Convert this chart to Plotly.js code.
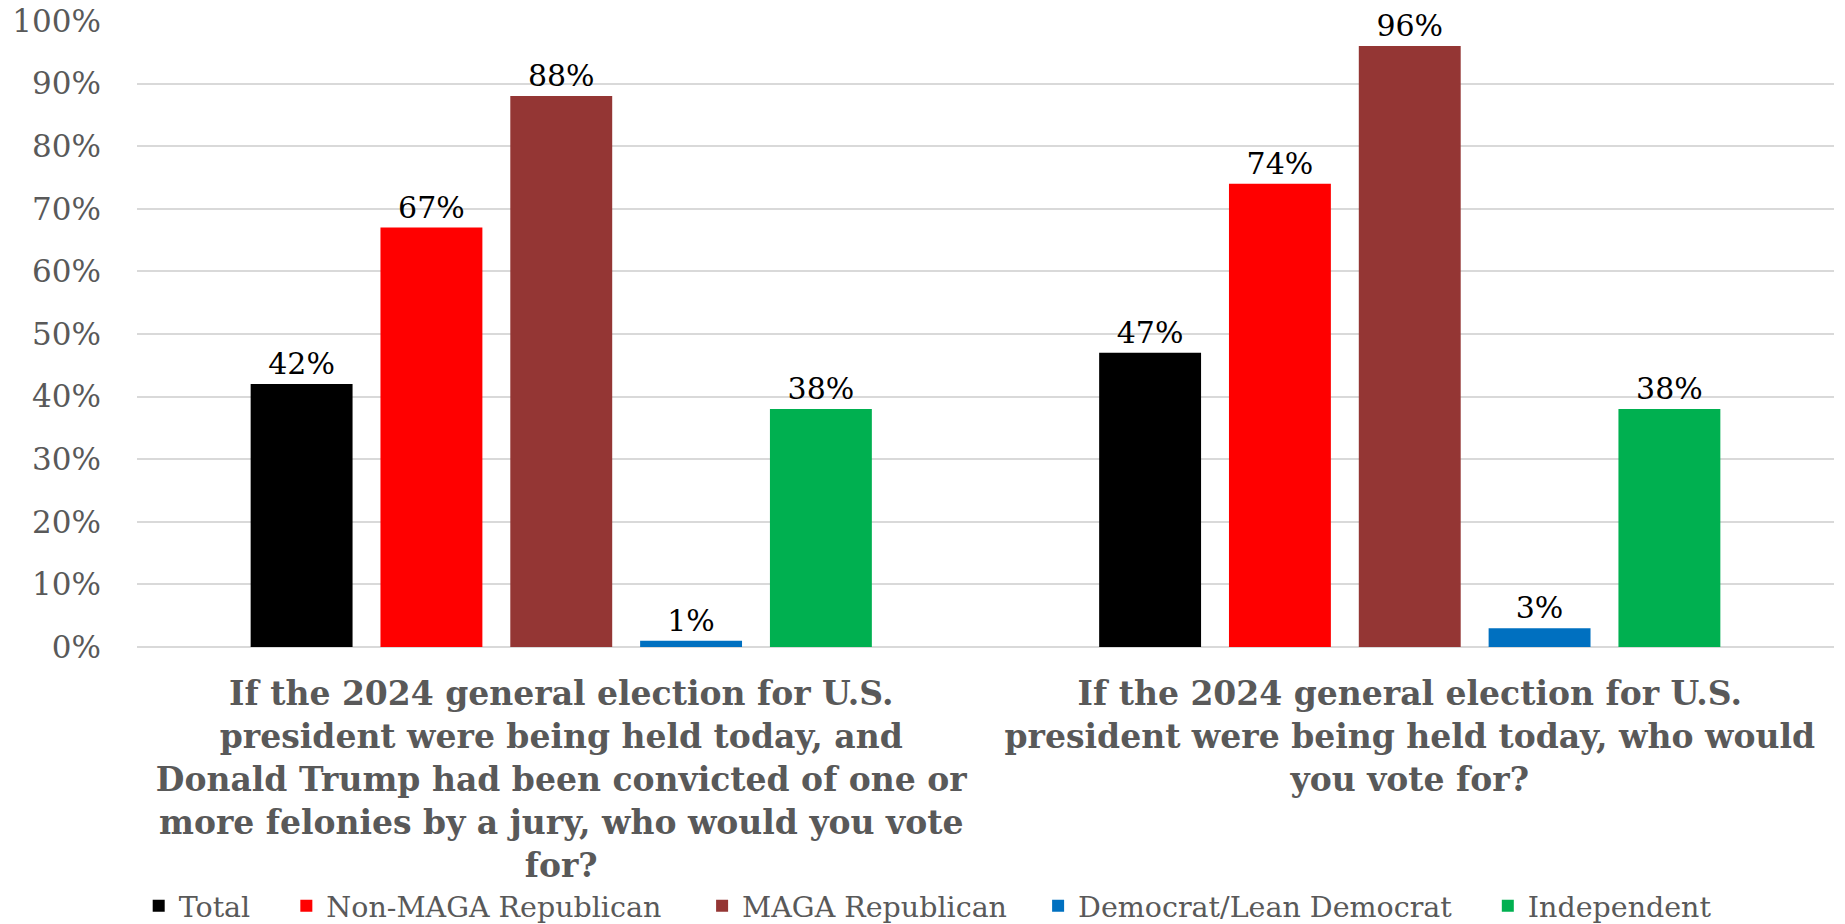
<!DOCTYPE html>
<html>
<head>
<meta charset="utf-8">
<script src="https://cdn.plot.ly/plotly-3.0.1.min.js"></script>
<style>html,body{margin:0;padding:0;background:#fff;}#chart{width:1845px;height:924px;}</style>
</head>
<body>
<div id="chart"></div>
<script>
const categories = [
  "If the 2024 general election for U.S.<br>president were being held today, and<br>Donald Trump had been convicted of one or<br>more felonies by a jury, who would you vote<br>for?",
  "If the 2024 general election for U.S.<br>president were being held today, who would<br>you vote for?"
];
const seriesNames = ["Total", "Non-MAGA Republican", "MAGA Republican", "Democrat/Lean Democrat", "Independent"];
const total = [42, 47];
const nonMaga = [67, 74];
const maga = [88, 96];
const democrat = [1, 3];
const independent = [38, 38];
const yTickVals = [0, 10, 20, 30, 40, 50, 60, 70, 80, 90, 100];
const yTickText = ["0%", "10%", "20%", "30%", "40%", "50%", "60%", "70%", "80%", "90%", "100%"];

const seriesValues = [total, nonMaga, maga, democrat, independent];
const colors = ["#000000", "#FF0000", "#943634", "#0070C0", "#00B050"];
const FONT = "DejaVu Serif, Georgia, serif";
// legend entry left positions in paper fraction (one legend per series)
const legendX = [0.001, 0.088, 0.333, 0.531, 0.796];

const legendIds = ["legend", "legend2", "legend3", "legend4", "legend5"];

const traces = seriesValues.map((vals, i) => ({
  type: "bar",
  name: seriesNames[i],
  x: categories,
  y: vals,
  marker: {color: colors[i]},
  text: vals.map(v => v + "%"),
  textposition: "outside",
  textfont: {family: FONT, size: 30, color: "#000000"},
  cliponaxis: false,
  hoverinfo: "skip",
  legend: legendIds[i]
}));

const layout = {
  width: 1845,
  height: 924,
  margin: {l: 137, r: 11, t: 21, b: 277, autoexpand: false},
  paper_bgcolor: "#ffffff",
  plot_bgcolor: "#ffffff",
  barmode: "group",
  bargap: 0.235,
  bargroupgap: 0.215,
  showlegend: true,
  xaxis: {
    type: "category",
    tickfont: {family: FONT, size: 33, color: "#595959", weight: "bold"},
    showgrid: false,
    showline: false,
    zeroline: false,
    ticks: "",
    ticklabelstandoff: 24,
    automargin: false
  },
  yaxis: {
    range: [0, 100],
    tickvals: yTickVals,
    ticktext: yTickText,
    tickfont: {family: FONT, size: 31, color: "#595959"},
    showgrid: true,
    gridcolor: "#D9D9D9",
    gridwidth: 2,
    zeroline: true,
    zerolinecolor: "#D9D9D9",
    zerolinewidth: 2,
    showline: false,
    ticks: "",
    ticklabelstandoff: 35,
    automargin: false
  }
};

legendIds.forEach((id, i) => {
  layout[id] = {
    orientation: "h",
    x: legendX[i], xanchor: "left",
    y: -0.414, yanchor: "middle",
    font: {family: FONT, size: 28.5, color: "#595959"},
    itemwidth: 30,
    bgcolor: "rgba(0,0,0,0)"
  };
});

Plotly.newPlot("chart", traces, layout, {displayModeBar: false, staticPlot: true});
</script>
</body>
</html>
